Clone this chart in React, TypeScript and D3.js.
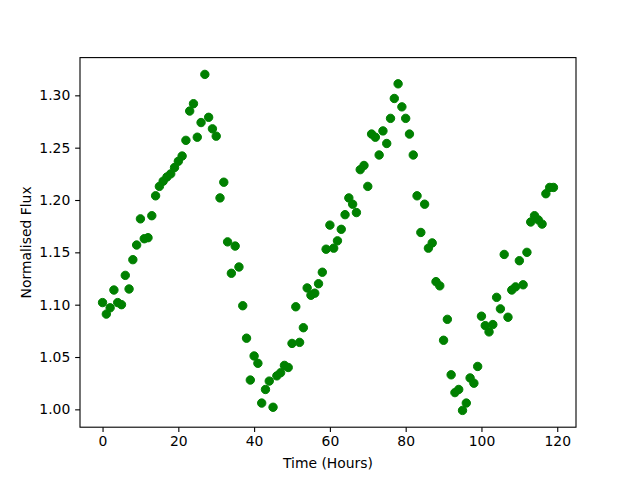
import { useEffect, useRef } from "react";
import * as d3 from "d3";

// Hour of each sample (one reading per hour)
const hours = [
  0, 1, 2, 3, 4, 5, 6, 7, 8, 9, 10, 11, 12, 13, 14, 15, 16, 17, 18, 19,
  20, 21, 22, 23, 24, 25, 26, 27, 28, 29, 30, 31, 32, 33, 34, 35, 36, 37, 38, 39,
  40, 41, 42, 43, 44, 45, 46, 47, 48, 49, 50, 51, 52, 53, 54, 55, 56, 57, 58, 59,
  60, 61, 62, 63, 64, 65, 66, 67, 68, 69, 70, 71, 72, 73, 74, 75, 76, 77, 78, 79,
  80, 81, 82, 83, 84, 85, 86, 87, 88, 89, 90, 91, 92, 93, 94, 95, 96, 97, 98, 99,
  100, 101, 102, 103, 104, 105, 106, 107, 108, 109, 110, 111, 112, 113, 114, 115, 116, 117, 118, 119,
];

// Normalised flux
const flux = [
  1.102, 1.091, 1.097, 1.114, 1.102, 1.100, 1.128, 1.115, 1.143, 1.157,
  1.182, 1.163, 1.164, 1.185, 1.204, 1.213, 1.218, 1.222, 1.225, 1.231,
  1.237, 1.242, 1.257, 1.285, 1.292, 1.260, 1.274, 1.320,
  1.279, 1.268, 1.261, 1.202, 1.217, 1.160, 1.130, 1.156, 1.136, 1.099,
  1.068, 1.028, 1.051, 1.044, 1.006, 1.019, 1.027, 1.002, 1.032, 1.035,
  1.042, 1.040, 1.063, 1.098, 1.064, 1.078, 1.116, 1.109, 1.111, 1.120,
  1.131, 1.153, 1.176,
  1.154, 1.161, 1.172, 1.186, 1.202, 1.196, 1.188, 1.229, 1.233, 1.213,
  1.263, 1.260, 1.243, 1.266, 1.254, 1.278, 1.297, 1.311, 1.289, 1.278,
  1.263, 1.243, 1.204, 1.169, 1.196, 1.154, 1.159, 1.122, 1.118, 1.066,
  1.086, 1.033,
  1.016, 1.019, 0.999, 1.006, 1.030, 1.025, 1.041, 1.089, 1.080, 1.074,
  1.081, 1.107, 1.096, 1.148, 1.088, 1.114, 1.117, 1.142, 1.119, 1.150,
  1.179, 1.185, 1.181, 1.177, 1.206, 1.212, 1.212,
];

const xTicks = [0, 20, 40, 60, 80, 100, 120];
const yTicks = [1.0, 1.05, 1.1, 1.15, 1.2, 1.25, 1.3];

const xLabel = "Time (Hours)";
const yLabel = "Normalised Flux";

function App() {
  const ref = useRef<SVGSVGElement>(null);
  const width = 640, height = 480;
  const left = 80, right = 576, top = 57.6, bottom = 427.2;

  useEffect(() => {
    const svg = d3.select(ref.current);
    svg.selectAll("*").remove();

    // matplotlib style 5% margins around the data
    const [x0, x1] = d3.extent(hours) as [number, number];
    const [y0, y1] = d3.extent(flux) as [number, number];
    const xPad = (x1 - x0) * 0.05, yPad = (y1 - y0) * 0.05;

    const x = d3.scaleLinear().domain([x0 - xPad, x1 + xPad]).range([left, right]);
    const y = d3.scaleLinear().domain([y0 - yPad, y1 + yPad]).range([bottom, top]);

    const font = "DejaVu Sans, sans-serif";

    svg.append("rect")
      .attr("width", width)
      .attr("height", height)
      .attr("fill", "white");

    // points
    svg.append("g")
      .selectAll("circle")
      .data(hours.map((h, i) => [h, flux[i]]))
      .join("circle")
      .attr("cx", d => x(d[0]))
      .attr("cy", d => y(d[1]))
      .attr("r", 4.2)
      .attr("fill", "#008000")
      .attr("stroke", "#008000")
      .attr("stroke-width", 1);

    // x axis
    const xAxis = d3.axisBottom(x)
      .tickValues(xTicks)
      .tickFormat(d3.format("d"))
      .tickSizeInner(4.86)
      .tickSizeOuter(0)
      .tickPadding(4.4);
    const gx = svg.append("g")
      .attr("transform", `translate(0,${bottom})`)
      .call(xAxis);

    // y axis
    const yAxis = d3.axisLeft(y)
      .tickValues(yTicks)
      .tickFormat(d3.format(".2f"))
      .tickSizeInner(4.86)
      .tickSizeOuter(0)
      .tickPadding(4.86);
    const gy = svg.append("g")
      .attr("transform", `translate(${left},0)`)
      .call(yAxis);

    [gx, gy].forEach(g => {
      g.select(".domain").remove();
      g.selectAll("line").attr("stroke", "black").attr("stroke-width", 1.1);
      g.selectAll("text")
        .attr("font-family", font)
        .attr("font-size", 13.9)
        .attr("fill", "black");
    });

    // frame
    svg.append("rect")
      .attr("x", left)
      .attr("y", top)
      .attr("width", right - left)
      .attr("height", bottom - top)
      .attr("fill", "none")
      .attr("stroke", "black")
      .attr("stroke-width", 1.1);

    svg.append("text")
      .attr("x", (left + right) / 2)
      .attr("y", 468)
      .attr("text-anchor", "middle")
      .attr("font-family", font)
      .attr("font-size", 13.9)
      .text(xLabel);

    svg.append("text")
      .attr("transform", `translate(31,${(top + bottom) / 2}) rotate(-90)`)
      .attr("text-anchor", "middle")
      .attr("font-family", font)
      .attr("font-size", 13.9)
      .text(yLabel);
  }, []);

  return (
    <svg
      ref={ref}
      width={width}
      height={height}
      style={{ position: "absolute", left: 0, top: 0, display: "block" }}
    />
  );
}

export default App;
